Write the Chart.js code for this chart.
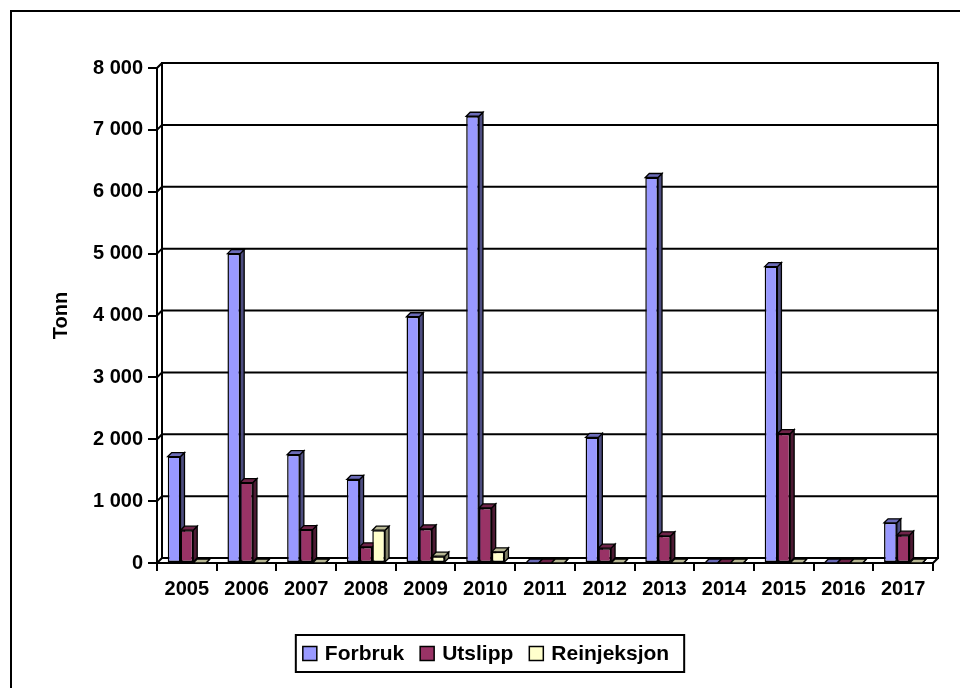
<!DOCTYPE html>
<html>
<head>
<meta charset="utf-8">
<title>Forbruk, utslipp og reinjeksjon</title>
<script src="https://cdn.jsdelivr.net/npm/chart.js@4.4.1/dist/chart.umd.min.js"></script>
<style>
  html, body { margin: 0; padding: 0; background: #fff; }
  #wrap { width: 960px; height: 688px; position: relative; }
</style>
</head>
<body>
<div id="wrap"><canvas id="c" width="960" height="688"></canvas></div>
<script>
// Years on the category axis
const years = ['2005', '2006', '2007', '2008', '2009', '2010', '2011', '2012', '2013', '2014', '2015', '2016', '2017'];

// Tonnes per year
const forbruk     = [1720, 5000, 1750, 1350, 3980, 7220, 0, 2030, 6230, 0, 4790, 0, 650];
const utslipp     = [530, 1300, 540, 260, 550, 890, 0, 240, 440, 0, 2090, 0, 450];
const reinjeksjon = [0, 0, 0, 530, 110, 180, 0, 0, 0, 0, 0, 0, 0];

// Value axis range
const yMin = 0;
const yMax = 8000;
const yStep = 1000;

const FONT = "'Liberation Sans', Arial, Helvetica, sans-serif";

// Face colours for the pseudo-3D columns: front, top, side
const frontColors = ['#9999FF', '#993366', '#FFFFCC'];
const topColors   = ['#6B6BB8', '#6E2449', '#B8B894'];
const sideColors  = ['#4D4D80', '#4D1A33', '#808066'];

const DEPTH = 4;   // column depth offset
const WALL = 5;    // back wall offset

function fmtThousands(v) {
  return String(v).replace(/\B(?=(\d{3})+(?!\d))/g, ' ');
}

function poly(ctx, pts, fill) {
  ctx.beginPath();
  ctx.moveTo(pts[0][0], pts[0][1]);
  for (let i = 1; i < pts.length; i++) ctx.lineTo(pts[i][0], pts[i][1]);
  ctx.closePath();
  ctx.fillStyle = fill;
  ctx.fill();
  ctx.stroke();
}

// White page with the outer frame
const pagePlugin = {
  id: 'page',
  beforeDraw(chart) {
    const ctx = chart.ctx;
    ctx.save();
    ctx.fillStyle = '#fff';
    ctx.fillRect(0, 0, chart.width, chart.height);
    ctx.strokeStyle = '#000';
    ctx.lineWidth = 2;
    ctx.strokeRect(11, 11, chart.width + 20, chart.height + 20);
    ctx.restore();
  }
};

// Back wall, gridlines and the top/side faces of the columns
const depthPlugin = {
  id: 'depth',
  beforeDatasetsDraw(chart) {
    const ctx = chart.ctx;
    const a = chart.chartArea;
    const ys = chart.scales.y;
    ctx.save();
    ctx.strokeStyle = '#000';
    ctx.lineWidth = 2;
    ctx.lineCap = 'square';

    // gridlines on the back wall
    for (let v = yMin; v <= yMax; v += yStep) {
      const py = ys.getPixelForValue(v);
      ctx.beginPath();
      ctx.moveTo(a.left, py);
      ctx.lineTo(a.left + WALL, py - WALL);
      ctx.lineTo(a.right + WALL, py - WALL);
      ctx.stroke();
    }
    const yTop = ys.getPixelForValue(yMax) - WALL;
    const yBot = ys.getPixelForValue(yMin) - WALL;
    ctx.beginPath();
    ctx.moveTo(a.left + WALL, yTop);
    ctx.lineTo(a.left + WALL, yBot);
    ctx.moveTo(a.right + WALL, yTop);
    ctx.lineTo(a.right + WALL, yBot);
    ctx.lineTo(a.right, yBot + WALL);
    ctx.stroke();

    // column top and side faces
    ctx.lineWidth = 1.3;
    ctx.lineJoin = 'miter';
    const n = chart.data.labels.length;
    for (let i = 0; i < n; i++) {
      chart.data.datasets.forEach((ds, d) => {
        const el = chart.getDatasetMeta(d).data[i];
        if (!el) return;
        const p = el.getProps(['x', 'y', 'base', 'width'], true);
        const l = p.x - p.width / 2;
        const r = p.x + p.width / 2;
        poly(ctx, [[r, p.y], [r + DEPTH, p.y - DEPTH], [r + DEPTH, p.base - DEPTH], [r, p.base]], sideColors[d]);
        poly(ctx, [[l, p.y], [l + DEPTH, p.y - DEPTH], [r + DEPTH, p.y - DEPTH], [r, p.y]], topColors[d]);
      });
    }
    ctx.restore();
  }
};

// Boxed legend centred under the plot
const legendBox = { cx: 490, top: 635, bottom: 672, sq: 14, gapText: 8, gapItem: 16, padX: 7 };
const legendPlugin = {
  id: 'boxLegend',
  afterDraw(chart) {
    const ctx = chart.ctx;
    const L = legendBox;
    ctx.save();
    ctx.font = 'bold 21px ' + FONT;
    ctx.textBaseline = 'middle';
    ctx.textAlign = 'left';
    const items = chart.data.datasets.map((ds, i) => ({
      label: ds.label,
      color: ds.backgroundColor,
      w: ctx.measureText(ds.label).width
    }));
    let total = 0;
    items.forEach((it, i) => {
      total += L.sq + L.gapText + it.w + (i < items.length - 1 ? L.gapItem : 0);
    });
    const boxW = total + L.padX * 2 + 8;
    const boxL = L.cx - boxW / 2;
    ctx.strokeStyle = '#000';
    ctx.lineWidth = 2;
    ctx.strokeRect(boxL, L.top, boxW, L.bottom - L.top);
    const cy = (L.top + L.bottom) / 2;
    let x = boxL + L.padX;
    items.forEach(it => {
      ctx.fillStyle = it.color;
      ctx.fillRect(x, cy - L.sq / 2, L.sq, L.sq);
      ctx.lineWidth = 1.5;
      ctx.strokeRect(x, cy - L.sq / 2, L.sq, L.sq);
      x += L.sq + L.gapText;
      ctx.fillStyle = '#000';
      ctx.fillText(it.label, x, cy + 1);
      x += it.w + L.gapItem;
    });
    ctx.restore();
  }
};

Chart.defaults.font.family = FONT;
Chart.defaults.font.weight = 'bold';
Chart.defaults.font.size = 20;
Chart.defaults.color = '#000';

const series = [
  { label: 'Forbruk', data: forbruk },
  { label: 'Utslipp', data: utslipp },
  { label: 'Reinjeksjon', data: reinjeksjon }
];

new Chart(document.getElementById('c'), {
  type: 'bar',
  data: {
    labels: years,
    datasets: series.map((s, i) => ({
      label: s.label,
      data: s.data,
      backgroundColor: frontColors[i],
      borderColor: '#000',
      borderWidth: 1.5,
      borderSkipped: false,
      categoryPercentage: 0.64,
      barPercentage: 1.0
    }))
  },
  options: {
    responsive: false,
    animation: false,
    devicePixelRatio: 1,
    layout: { padding: { left: 0, top: 68, right: 27, bottom: 0 } },
    plugins: {
      legend: { display: false },
      tooltip: { enabled: false }
    },
    scales: {
      x: {
        offset: true,
        grid: { display: true, drawOnChartArea: false, offset: true, tickLength: 8, color: '#000', lineWidth: 2 },
        border: { display: true, color: '#000', width: 2 },
        ticks: { padding: 6, font: { size: 20, weight: 'bold', family: FONT }, maxRotation: 0, autoSkip: false },
        afterFit(scale) { scale.height = 125; }
      },
      y: {
        min: yMin,
        max: yMax,
        grid: { display: true, drawOnChartArea: false, tickLength: 9, color: '#000', lineWidth: 2 },
        border: { display: true, color: '#000', width: 2 },
        ticks: {
          stepSize: yStep,
          padding: 5,
          font: { size: 20, weight: 'bold', family: FONT },
          callback: v => fmtThousands(v)
        },
        title: {
          display: true,
          text: 'Tonn',
          font: { size: 20, weight: 'bold', family: FONT },
          padding: { top: 49, bottom: 0 }
        },
        afterFit(scale) { scale.width = 157; }
      }
    }
  },
  plugins: [pagePlugin, depthPlugin, legendPlugin]
});
</script>
</body>
</html>
